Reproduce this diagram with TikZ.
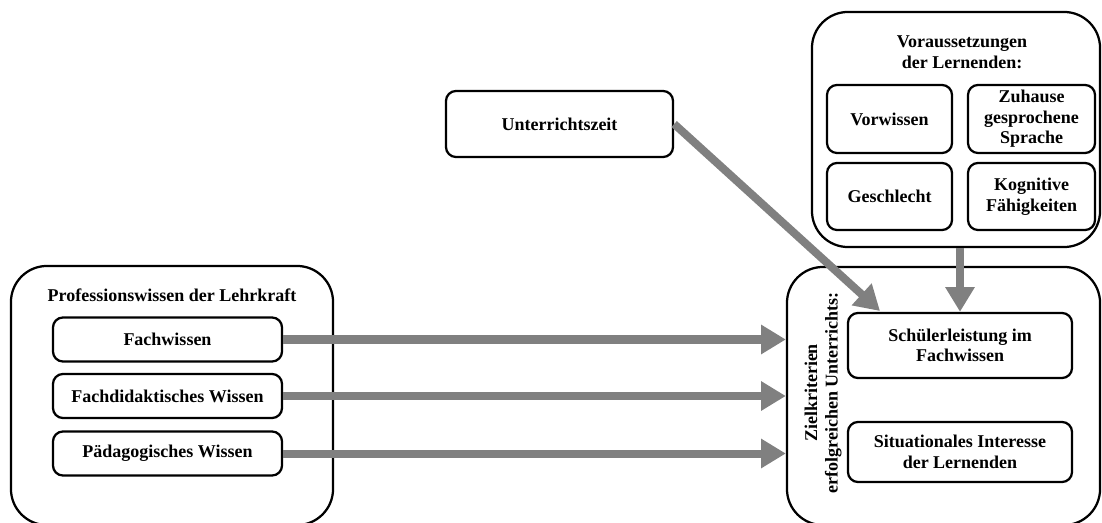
\documentclass[tikz,border=0pt]{standalone}
\usepackage{fontspec}
\setmainfont{Liberation Serif}
\usepackage{tikz}
\usetikzlibrary{arrows.meta}
\definecolor{arrowgray}{RGB}{128,128,128}

\begin{document}
\begin{tikzpicture}[x=0.025cm, y=-0.025cm,
        font=\fontsize{12.8}{14.6}\selectfont\bfseries,
        outerbox/.style={draw, line width=1.6pt, rounded corners=0.9cm},
        innerbox/.style={draw, line width=1.6pt, rounded corners=0.25cm, align=center},
        flow/.style={line width=0.2cm, draw=arrowgray, -{Triangle[length=0.62cm, width=0.7cm]}}]

        \useasboundingbox (0,0) rectangle (1102,523);
        \clip (0,0) rectangle (1102,523);

        % professionswissen
            \node[outerbox, minimum width=8.05cm, minimum height=6.475cm] (prof) at (172,395.5) {};
            \node (proftitle) at (172,295) {Professionswissen der Lehrkraft};
            \node[innerbox, minimum width=5.725cm, minimum height=1.1cm] (fach) at (167.5,339.5) {Fachwissen};
            \node[innerbox, minimum width=5.725cm, minimum height=1.1cm] (didak) at (167.5,396) {Fachdidaktisches Wissen};
            \node[innerbox, minimum width=5.725cm, minimum height=1.1cm] (paed) at (167.5,453.5) {Pädagogisches Wissen};

        % unterrichtszeit
            \node[innerbox, minimum width=5.675cm, minimum height=1.65cm] (zeit) at (559.5,124) {Unterrichtszeit};

        % voraussetzungen
            \node[outerbox, minimum width=7.2cm, minimum height=5.875cm] (vor) at (956,129.5) {};
            \node[align=center] (vortitle) at (962,52) {Voraussetzungen\\der Lernenden:};
            \node[innerbox, minimum width=3.125cm, minimum height=1.7cm] (vorw) at (889.5,119) {Vorwissen};
            \node[innerbox, minimum width=3.175cm, minimum height=1.7cm] (zuh) at (1031.5,119) {Zuhause\\gesprochene\\Sprache};
            \node[innerbox, minimum width=3.125cm, minimum height=1.675cm] (geschl) at (889.5,196.5) {Geschlecht};
            \node[innerbox, minimum width=3.175cm, minimum height=1.675cm] (kogn) at (1031.5,196.5) {Kognitive\\Fähigkeiten};

        % zielkriterien
            \node[outerbox, minimum width=7.825cm, minimum height=6.45cm] (ziel) at (943.5,396) {};
            \node[align=center, rotate=90] (zieltitle) at (823,393) {Zielkriterien\\erfolgreichen Unterrichts:};
            \node[innerbox, minimum width=5.6cm, minimum height=1.625cm] (leist) at (960,345.5) {Schülerleistung im\\Fachwissen};
            \node[innerbox, minimum width=5.6cm, minimum height=1.5cm] (inter) at (960,452) {Situationales Interesse\\der Lernenden};

        % arrows
            \coordinate (zeitend) at (880,311);
            \draw[flow] (fach.east) -- (fach.east -| ziel.west);
            \draw[flow] (didak.east) -- (didak.east -| ziel.west);
            \draw[flow] (paed.east) -- (paed.east -| ziel.west);
            \draw[flow] (zeit.east) -- (zeitend);
            \draw[flow] (vor.south -| leist.north) -- (leist.north);
        \end{tikzpicture}
\end{document}
